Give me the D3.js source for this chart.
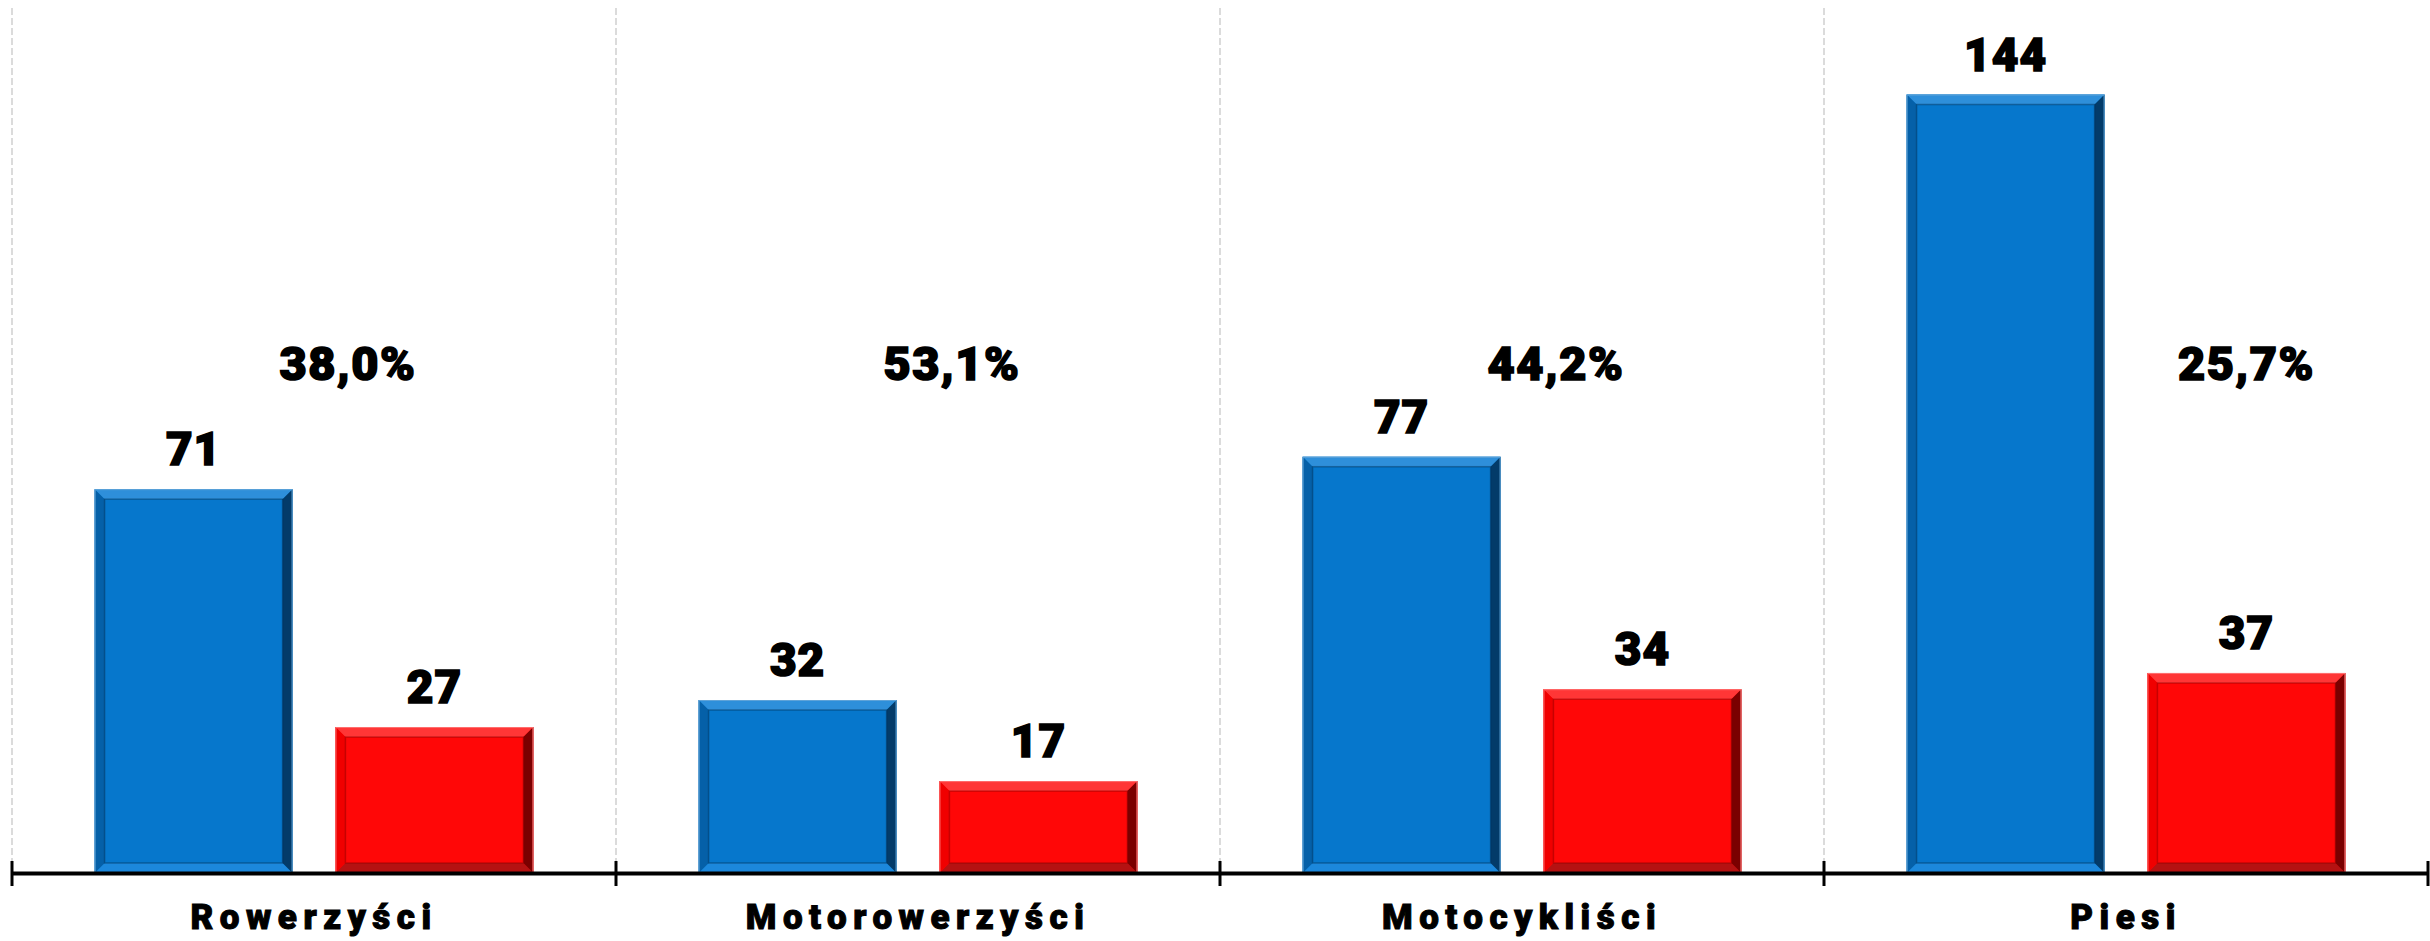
<!DOCTYPE html>
<html>
<head>
<meta charset="utf-8">
<script src="https://cdn.jsdelivr.net/npm/d3@7"></script>
<style>
  body { margin: 0; background: #fff; }
  text { font-family: "Arial Black", "Roboto", "Inter", sans-serif; font-weight: 900; }
</style>
</head>
<body>
<div id="chart"></div>
<script>
// data
var categories = ["Rowerzyści", "Motorowerzyści", "Motocykliści", "Piesi"];
var series = ["zdarzenia", "ranni"];
var blueValues = [71, 32, 77, 144];
var redValues = [27, 17, 34, 37];
var percentLabels = ["38,0%", "53,1%", "44,2%", "25,7%"];

function init() {
    var w = 2430;
    var h = 941;
    var axisY = 873;
    var pctLevel = 91.2;   // height (in data units) where the percent labels sit

    var svg = d3.select("#chart")
                .append("svg")
                .attr("width", w)
                .attr("height", h);

    var x0 = d3.scaleBand()
                .domain(categories)
                .range([12, 2428])
                .paddingInner(0)
                .paddingOuter(0);

    var x1 = d3.scaleBand()
                .domain(series)
                .range([0, x0.bandwidth()])
                .paddingInner(0.178)
                .paddingOuter(0.343);

    var y = d3.scaleLinear()
                .domain([0, 160])
                .range([axisY, 8]);

    var colors = {
        zdarzenia: {main: "#0677CC", top: "#2E8FDA", bottom: "#1C88DC", left: "#0560A8", right: "#033B69", edge: "#5FA3D8", line: "#023056"},
        ranni: {main: "#FF0707", top: "#FF3636", bottom: "#B51212", left: "#F00000", right: "#7A0000", edge: "#FF7070", line: "#8A0000"}
    };

    // dashed separators between categories
    var bounds = categories.map(function(c) { return x0(c); });
    svg.selectAll("line.grid")
        .data(bounds)
        .enter()
        .append("line")
        .attr("class", "grid")
        .attr("x1", function(d) { return d; })
        .attr("x2", function(d) { return d; })
        .attr("y1", y(160))
        .attr("y2", axisY)
        .attr("stroke", "#cfcfcf")
        .attr("stroke-width", 1.5)
        .attr("stroke-dasharray", "7,3");

    var rows = categories.map(function(c, i) {
        return {cat: c, values: [
            {key: "zdarzenia", value: blueValues[i]},
            {key: "ranni", value: redValues[i]}
        ]};
    });

    var groups = svg.selectAll("g.cat")
                .data(rows)
                .enter()
                .append("g")
                .attr("class", "cat")
                .attr("transform", function(d) { return "translate(" + x0(d.cat) + ",0)"; });

    var bars = groups.selectAll("g.bar")
                .data(function(d) { return d.values; })
                .enter()
                .append("g")
                .attr("class", "bar");

    var b = 10; // bevel width
    function pts(arr) { return arr.map(function(p) { return p.join(","); }).join(" "); }

    bars.each(function(d) {
        var g = d3.select(this);
        var c = colors[d.key];
        var bx = x1(d.key), bw = x1.bandwidth();
        var by = y(d.value), bh = axisY - by;
        var r = bx + bw, bt = axisY;
        g.append("rect")
            .attr("x", bx).attr("y", by).attr("width", bw).attr("height", bh)
            .attr("fill", c.main);
        g.append("polygon").attr("fill", c.top)
            .attr("points", pts([[bx, by], [r, by], [r - b, by + b], [bx + b, by + b]]));
        g.append("polygon").attr("fill", c.bottom)
            .attr("points", pts([[bx, bt], [r, bt], [r - b, bt - b], [bx + b, bt - b]]));
        g.append("polygon").attr("fill", c.left)
            .attr("points", pts([[bx, by], [bx + b, by + b], [bx + b, bt - b], [bx, bt]]));
        g.append("polygon").attr("fill", c.right)
            .attr("points", pts([[r, by], [r - b, by + b], [r - b, bt - b], [r, bt]]));
        // inner crease
        g.append("rect")
            .attr("x", bx + b).attr("y", by + b).attr("width", bw - 2 * b).attr("height", bh - 2 * b)
            .attr("fill", "none").attr("stroke", c.line).attr("stroke-opacity", 0.45).attr("stroke-width", 1.5);
        g.append("rect")
            .attr("x", bx + 0.5).attr("y", by + 0.5).attr("width", bw - 1).attr("height", bh - 1)
            .attr("fill", "none").attr("stroke", c.edge).attr("stroke-width", 1);
    });

    // value labels above the bars
    bars.append("text")
        .text(function(d) { return d.value; })
        .attr("x", function(d) { return x1(d.key) + x1.bandwidth() / 2; })
        .attr("y", function(d) { return y(d.value) - 24; })
        .attr("text-anchor", "middle")
        .attr("font-size", 46)
        .attr("letter-spacing", 1)
        .attr("fill", "#000")
        .attr("stroke", "#000")
        .attr("stroke-width", 1.6);

    // percent labels (ranni / zdarzenia)
    groups.append("text")
        .text(function(d, i) { return percentLabels[i]; })
        .attr("x", function(d, i) {
            if (blueValues[i] > pctLevel - 5) {
                return x1("ranni") + x1.bandwidth() / 2;
            }
            return x0.bandwidth() / 2 + 34;
        })
        .attr("y", y(pctLevel))
        .attr("text-anchor", "middle")
        .attr("font-size", 47)
        .attr("letter-spacing", 1.5)
        .attr("fill", "#000")
        .attr("stroke", "#000")
        .attr("stroke-width", 1.6);

    // x axis
    var axis = d3.axisBottom(x0).tickSize(0).tickPadding(31);
    var ax = svg.append("g")
        .attr("transform", "translate(0," + axisY + ")")
        .call(axis);
    ax.select(".domain").attr("stroke", "#000").attr("stroke-width", 4);
    ax.selectAll("text")
        .attr("font-size", 35)
        .attr("letter-spacing", 6.5)
        .attr("fill", "#000")
        .attr("stroke", "#000")
        .attr("stroke-width", 1)
        .style("font-family", "\"Arial Black\", Roboto, Inter, sans-serif")
        .style("font-weight", 900);

    // tick marks on category boundaries
    svg.selectAll("line.tick")
        .data(bounds.concat([x0.range()[1]]))
        .enter()
        .append("line")
        .attr("class", "tick")
        .attr("x1", function(d) { return d; })
        .attr("x2", function(d) { return d; })
        .attr("y1", axisY - 12)
        .attr("y2", axisY + 13)
        .attr("stroke", "#000")
        .attr("stroke-width", 3);
}

window.onload = init;
</script>
</body>
</html>
